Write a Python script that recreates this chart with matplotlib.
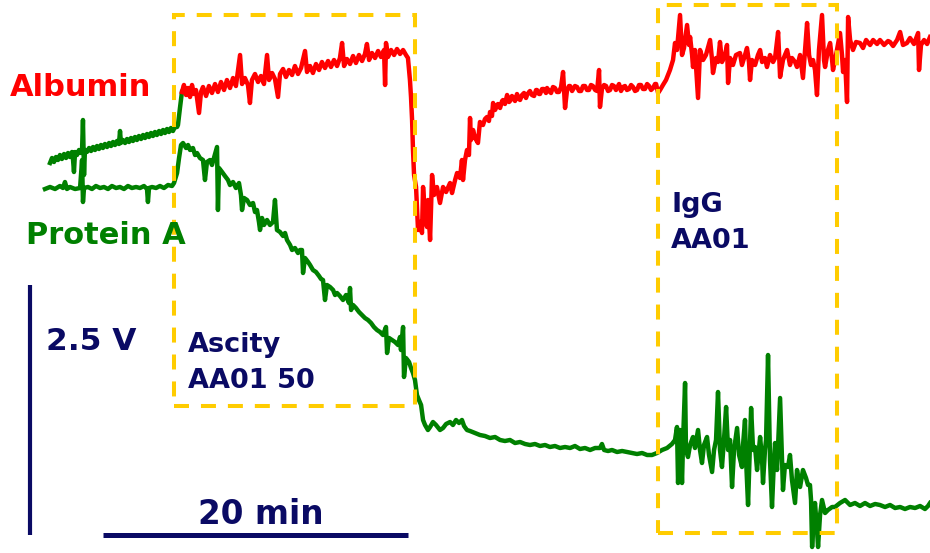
import matplotlib
matplotlib.use("Agg")
import matplotlib.pyplot as plt
from matplotlib.patches import Rectangle

# ---- recorded sensor traces: time in minutes, signal in volts ----
# channel 1 before the Albumin surface takes over (drawn green)
ch1_pre_t = [0.33, 0.46, 0.59, 0.72, 0.85, 0.98, 1.11, 1.25, 1.38, 1.51, 1.64, 1.77, 1.84, 1.90,
             1.97, 2.10, 2.23, 2.36, 2.43, 2.49, 2.56, 2.62, 2.75, 2.89, 3.02, 3.15, 3.28, 3.41,
             3.54, 3.67, 3.80, 3.93, 4.07, 4.20, 4.33, 4.46, 4.59, 4.72, 4.85, 4.92, 4.98, 5.11,
             5.25, 5.38, 5.51, 5.64, 5.77, 5.90, 6.03, 6.16, 6.30, 6.43, 6.56, 6.69, 6.82, 6.95,
             7.08, 7.21, 7.34, 7.48, 7.61, 7.74, 7.87, 8.00, 8.13, 8.26, 8.39, 8.52, 8.66, 8.72,
             8.85, 8.98]
ch1_pre_v = [3.90, 3.95, 3.91, 3.96, 3.93, 3.98, 3.94, 3.99, 3.95, 4.00, 3.96, 4.01, 3.93, 3.81,
             4.01, 3.98, 4.03, 4.00, 4.03, 4.33, 3.78, 4.03, 4.01, 4.05, 4.02, 4.06, 4.03, 4.07,
             4.04, 4.08, 4.05, 4.09, 4.06, 4.10, 4.07, 4.11, 4.08, 4.12, 4.09, 4.22, 4.10, 4.13,
             4.10, 4.14, 4.11, 4.15, 4.12, 4.16, 4.13, 4.17, 4.14, 4.18, 4.15, 4.19, 4.16, 4.20,
             4.17, 4.21, 4.18, 4.22, 4.19, 4.23, 4.20, 4.24, 4.21, 4.25, 4.22, 4.26, 4.26, 4.28,
             4.45, 4.61]

# Albumin channel
alb_t = [8.98, 9.11, 9.25, 9.38, 9.51, 9.64, 9.77, 9.90, 10.10, 10.23, 10.36, 10.56, 10.75, 10.95,
         11.15, 11.34, 11.54, 11.74, 11.93, 12.13, 12.33, 12.52, 12.79, 12.92, 13.11, 13.31, 13.44,
         13.57, 13.77, 13.97, 14.16, 14.36, 14.56, 14.69, 14.89, 15.08, 15.28, 15.41, 15.61, 15.80,
         16.00, 16.20, 16.39, 16.59, 16.79, 17.05, 17.18, 17.38, 17.57, 17.77, 17.97, 18.16, 18.36,
         18.56, 18.75, 18.95, 19.15, 19.34, 19.48, 19.61, 19.80, 20.00, 20.20, 20.39, 20.59, 20.79,
         20.98, 21.11, 21.25, 21.44, 21.64, 21.84, 22.03, 22.23, 22.30, 22.36, 22.49, 22.69, 22.89,
         23.08, 23.28, 23.48, 23.67, 23.80, 23.93, 24.00, 24.07, 24.13, 24.20, 24.33, 24.46, 24.59,
         24.72, 24.79, 24.92, 25.05, 25.11, 25.25, 25.38, 25.51, 25.70, 25.90, 26.10, 26.30, 26.56,
         26.69, 26.89, 27.02, 27.21, 27.34, 27.41, 27.54, 27.67, 27.80, 27.87, 27.93, 28.07, 28.20,
         28.39, 28.52,
         28.72, 28.85, 28.98, 29.11, 29.18, 29.31, 29.38, 29.51, 29.64, 29.70, 29.84, 29.97, 30.03,
         30.16, 30.30, 30.43, 30.49, 30.62, 30.69, 30.82, 30.95, 31.08, 31.15, 31.28, 31.41, 31.54,
         31.61, 31.74, 31.80, 31.93, 32.07, 32.20, 32.26, 32.39, 32.46, 32.59, 32.72, 32.85, 32.92,
         33.05, 33.18, 33.31, 33.44, 33.57, 33.70, 33.84, 33.97, 34.10, 34.23, 34.36, 34.43, 34.56,
         34.75, 34.89, 35.02, 35.15, 35.28, 35.41, 35.54, 35.67, 35.80, 35.93, 36.07, 36.20, 36.33,
         36.39, 36.52, 36.66, 36.79, 36.92, 37.05, 37.18, 37.31, 37.44, 37.51, 37.64, 37.77, 37.90,
         38.03, 38.16, 38.30, 38.43, 38.56, 38.69, 38.82, 38.95, 39.08, 39.21, 39.34, 39.48, 39.61,
         39.74, 39.87, 40.00, 40.07, 40.20,
         40.33, 40.52, 40.72, 40.98, 41.18, 41.31, 41.44, 41.64, 41.77, 41.90,
         42.10, 42.23, 42.30, 42.43, 42.49, 42.62, 42.82, 42.95, 43.15, 43.34, 43.61, 43.74, 43.80,
         44.00, 44.13, 44.26, 44.39, 44.59, 44.72, 44.79, 44.92, 45.11, 45.31, 45.57, 45.70, 45.90,
         46.03, 46.16, 46.23, 46.36, 46.56, 46.75, 46.89, 47.02, 47.21, 47.34, 47.54, 47.74, 47.87,
         48.07, 48.20, 48.39, 48.52, 48.66, 48.85, 48.98, 49.18, 49.31, 49.51, 49.70, 49.84, 49.97,
         50.10, 50.23, 50.36, 50.49, 50.62, 50.75, 50.95, 51.08, 51.15, 51.34, 51.48, 51.61, 51.67,
         51.87, 52.13, 52.26, 52.33, 52.46, 52.59, 52.66, 52.79, 52.98, 53.18, 53.44, 53.64, 53.84,
         54.10, 54.30, 54.56, 54.75, 55.02, 55.28, 55.41, 55.61, 55.87, 56.07, 56.26, 56.52, 56.72,
         56.98, 57.25, 57.31, 57.44, 57.64, 57.84, 58.03]
alb_v = [4.61, 4.68, 4.58, 4.65, 4.56, 4.68, 4.59, 4.63, 4.40, 4.61, 4.66, 4.57, 4.67, 4.60,
         4.69, 4.61, 4.71, 4.63, 4.73, 4.65, 4.75, 4.67, 4.98, 4.69, 4.75, 4.68, 4.50,
         4.73, 4.79, 4.71, 4.77, 4.69, 4.98, 4.73, 4.80, 4.74, 4.56, 4.79, 4.84, 4.76,
         4.83, 4.78, 4.87, 4.79, 4.85, 5.02, 4.81, 4.87, 4.80, 4.89, 4.83, 4.91, 4.85,
         4.92, 4.86, 4.93, 4.87, 4.95, 5.10, 4.87, 4.94, 4.89, 4.97, 4.90, 4.98, 4.92,
         4.99, 5.09, 4.93, 5.00, 4.95, 5.02, 4.96, 5.03, 4.68, 5.10, 4.96, 5.03, 4.98,
         5.04, 4.99, 5.03, 4.98, 4.95, 4.73, 4.56, 4.33, 4.03, 3.78, 3.66, 3.23, 3.31,
         3.20, 3.66, 3.38, 3.26, 3.53, 3.13, 3.78, 3.58, 3.66, 3.50, 3.66, 3.61, 3.70,
         3.60, 3.73, 3.80, 3.75, 3.93, 3.73, 3.93, 4.03, 3.98, 4.35, 4.13, 4.23, 4.15,
         4.10, 4.31,
         4.28, 4.34, 4.36, 4.32, 4.41, 4.37, 4.50, 4.43, 4.47, 4.49, 4.45, 4.52, 4.53,
         4.49, 4.58, 4.51, 4.52, 4.57, 4.55, 4.52, 4.59, 4.54, 4.53, 4.58, 4.60, 4.55,
         4.58, 4.61, 4.62, 4.58, 4.57, 4.63, 4.63, 4.59, 4.59, 4.64, 4.64, 4.60, 4.65,
         4.62, 4.60, 4.66, 4.65, 4.61, 4.61, 4.66, 4.81, 4.45, 4.63, 4.67, 4.67, 4.62,
         4.67, 4.66, 4.62, 4.62, 4.67, 4.67, 4.63, 4.63, 4.68, 4.67, 4.63, 4.62, 4.83,
         4.46, 4.64, 4.68, 4.67, 4.62, 4.63, 4.68, 4.67, 4.63, 4.65, 4.69, 4.62, 4.66,
         4.67, 4.63, 4.64, 4.68, 4.66, 4.62, 4.63, 4.68, 4.68, 4.64, 4.64, 4.69, 4.67,
         4.63, 4.65, 4.69, 4.69, 4.60,
         4.63, 4.68, 4.73, 4.83, 4.93, 5.10, 5.03, 5.38, 4.98, 5.05,
         5.28, 5.08, 5.16, 4.98, 4.86, 5.03, 4.55, 5.03, 4.93, 4.98, 5.13, 4.93, 4.80,
         4.95, 4.91, 5.11, 4.91, 4.98, 5.08, 4.70, 4.95, 4.88, 4.98, 5.00, 4.88, 4.98,
         5.05, 4.91, 4.73, 4.93, 4.88, 4.98, 5.03, 4.91, 4.95, 4.86, 4.98, 4.91, 4.95,
         5.21, 4.76, 4.93, 4.98, 5.03, 4.88, 4.95, 4.91, 4.86, 4.98, 4.75, 5.03, 5.30,
         4.98, 4.88, 4.93, 4.83, 4.58, 5.03, 5.38, 4.93, 4.86, 5.03, 5.10, 4.93, 4.83,
         4.98, 5.20, 4.98, 4.81, 4.93, 4.51, 5.36, 5.13, 5.03, 5.11, 5.10, 5.05, 5.13,
         5.08, 5.13, 5.09, 5.13, 5.08, 5.12, 5.11, 5.07, 5.13, 5.21, 5.08, 5.10, 5.15,
         5.09, 5.20, 4.83, 5.08, 5.13, 5.09, 5.16]

# Protein A channel
pa_t = [0.00, 0.33, 0.66, 0.98, 1.18, 1.31, 1.44, 1.64, 1.97, 2.30, 2.43, 2.49, 2.56, 2.82,
        3.08, 3.34, 3.61, 3.87, 4.13, 4.39, 4.66, 4.92, 5.18, 5.44, 5.70, 5.97, 6.23, 6.49,
        6.69, 6.75, 6.82, 7.02, 7.28, 7.54, 7.80, 8.07, 8.33, 8.46, 8.66, 8.79, 8.92, 9.05,
        9.25, 9.38, 9.51, 9.70, 9.84, 9.97, 10.16, 10.36, 10.49, 10.62, 10.82, 10.95, 11.08,
        11.28, 11.34, 11.41, 11.61, 11.80, 12.00, 12.13, 12.33, 12.52, 12.72, 12.85, 12.92,
        13.05, 13.25, 13.44, 13.64, 13.77, 13.90, 14.03, 14.10, 14.23, 14.36, 14.56, 14.75,
        14.95, 15.08, 15.21, 15.41, 15.61, 15.74, 15.87, 16.07, 16.20, 16.39, 16.59, 16.72,
        16.85, 16.92, 17.05, 17.25, 17.38, 17.57, 17.77, 17.97, 18.10, 18.23, 18.36, 18.49,
        18.69, 18.89, 19.02, 19.15, 19.34, 19.54, 19.74, 19.93, 20.00, 20.07, 20.20, 20.39,
        20.59, 20.79, 20.98, 21.18, 21.38, 21.57, 21.77, 21.97, 22.16, 22.36, 22.43, 22.56,
        22.75, 22.95, 23.15, 23.28, 23.34, 23.48, 23.54, 23.67, 23.87, 24.00, 24.13, 24.26,
        24.39, 24.52, 24.66, 24.79, 24.92, 25.11, 25.25, 25.44, 25.64, 25.90, 26.10, 26.30,
        26.56, 26.75, 26.95, 27.15, 27.34, 27.48, 27.67, 27.87, 28.20, 28.52, 28.85, 29.18,
        29.51, 29.84, 30.16, 30.49, 30.82, 31.15, 31.48, 31.80, 32.13, 32.46, 32.79, 33.11,
        33.44, 33.77, 34.10, 34.43, 34.75, 35.08, 35.41, 35.74, 36.07, 36.39, 36.52, 36.66,
        36.92, 37.18, 37.51, 37.84, 38.16, 38.49, 38.82, 39.15, 39.48, 39.80, 40.13, 40.46,
        40.79, 41.11, 41.31, 41.44, 41.51, 41.64, 41.77, 41.84, 41.97, 42.03, 42.16, 42.30,
        42.49, 42.62, 42.82, 42.95, 43.08, 43.21, 43.41, 43.54, 43.74, 43.87, 44.00, 44.13,
        44.26, 44.39, 44.52, 44.66, 44.79, 44.92, 45.05, 45.18, 45.38, 45.51, 45.70, 45.77,
        45.90, 45.97, 46.10, 46.23, 46.30, 46.43, 46.56, 46.69, 46.89, 47.02, 47.08, 47.21,
        47.28, 47.41, 47.54, 47.67, 47.80, 47.87, 48.00, 48.20, 48.33, 48.39, 48.52, 48.72,
        48.85, 48.98, 49.18, 49.31, 49.51, 49.70, 49.90, 50.03, 50.16, 50.23, 50.30, 50.43,
        50.49, 50.62, 50.69, 50.82, 50.95, 51.15, 51.34, 51.61, 51.80, 52.13, 52.46, 52.79,
        53.11, 53.44, 53.77, 54.10, 54.43, 54.75, 55.08, 55.41, 55.74, 56.07, 56.39, 56.72,
        57.05, 57.38, 57.70, 57.90, 58.03]
pa_v = [3.64, 3.66, 3.64, 3.67, 3.65, 3.71, 3.64, 3.66, 3.64, 3.65, 3.93, 3.51, 3.65, 3.66,
        3.64, 3.67, 3.65, 3.66, 3.64, 3.67, 3.65, 3.66, 3.64, 3.67, 3.65, 3.66, 3.65, 3.67,
        3.64, 3.51, 3.65, 3.66, 3.65, 3.67, 3.65, 3.68, 3.67, 3.70, 3.80, 3.95, 4.08, 4.10,
        4.05, 4.08, 4.03, 4.05, 3.98, 4.00, 3.95, 3.93, 3.73, 3.91, 3.93, 3.88, 3.95,
        4.06, 3.43, 3.85, 3.81, 3.77, 3.73, 3.68, 3.71, 3.65, 3.70, 3.58, 3.43,
        3.55, 3.53, 3.48, 3.50, 3.41, 3.43, 3.31, 3.23, 3.35, 3.28, 3.33, 3.28,
        3.31, 3.53, 3.23, 3.21, 3.17, 3.20, 3.13, 3.08, 3.03, 3.05, 3.00, 3.03,
        3.03, 2.80, 2.95, 2.91, 2.88, 2.83, 2.81, 2.77, 2.74, 2.73, 2.53, 2.68,
        2.66, 2.63, 2.58, 2.60, 2.57, 2.53, 2.58, 2.50, 2.65, 2.43, 2.48, 2.45,
        2.41, 2.38, 2.35, 2.33, 2.30, 2.26, 2.23, 2.21, 2.18, 2.26, 2.00, 2.15,
        2.13, 2.11, 2.08, 2.16, 2.03, 2.26, 1.76, 1.95, 1.91, 1.85, 1.80, 1.73,
        1.58, 1.53, 1.48, 1.33, 1.28, 1.23, 1.26, 1.31, 1.28, 1.23, 1.25, 1.29,
        1.31, 1.28, 1.33, 1.30, 1.33, 1.27, 1.23, 1.22, 1.20, 1.18, 1.17, 1.15,
        1.16, 1.13, 1.12, 1.13, 1.10, 1.11, 1.09, 1.08, 1.09, 1.07, 1.08, 1.06,
        1.07, 1.05, 1.06, 1.05, 1.07, 1.04, 1.05, 1.03, 1.05, 1.05, 1.09, 1.03,
        1.02, 1.03, 1.01, 1.02, 1.01, 1.00, 0.99, 1.00, 0.98, 0.98, 1.00, 1.03,
        1.05, 1.09, 1.13, 1.26, 0.70, 1.23, 0.70, 1.13, 1.70, 1.03, 0.96, 1.08,
        1.16, 1.05, 1.23, 1.03, 0.90, 1.08, 1.16, 0.98, 0.81, 1.03, 1.13, 1.61,
        1.03, 0.86, 1.13, 1.46, 1.03, 1.13, 0.66, 1.03, 1.25, 0.98, 0.86, 1.08,
        1.33, 0.93, 0.48, 1.13, 1.45, 1.03, 1.06, 0.83, 1.16, 0.93, 0.70, 1.03,
        1.13, 1.98, 0.93, 0.46, 0.93, 1.10, 0.83, 1.55, 0.93, 0.63, 0.88, 0.86,
        0.98, 0.73, 0.50, 0.83, 0.66, 0.83, 0.75, 0.68, 0.68, 0.53, 0.06, 0.43,
        0.50, 0.23, 0.06, 0.38, 0.53, 0.40, 0.43, 0.46, 0.46, 0.50, 0.53, 0.48,
        0.50, 0.47, 0.50, 0.47, 0.49, 0.48, 0.46, 0.48, 0.45, 0.46, 0.44, 0.46,
        0.45, 0.47, 0.44, 0.47, 0.50]

# sample injection windows (start, end) in minutes and their drawn band in volts
inj_ascity = (8.46, 24.26)
inj_ascity_band = (1.47, 5.38)
inj_igg = (40.20, 51.93)
inj_igg_band = (0.20, 5.48)

# scale bars
bar_time_min = 20.0
bar_volt = 2.5
bar_origin = (-0.98, 0.18)   # vertical bar foot (min, V)
hbar_start = 3.80

RED = "#FF0000"
GREEN = "#008000"
NAVY = "#0A0A64"
GOLD = "#FFCC00"

fig = plt.figure(figsize=(9.3, 5.53), dpi=100)
ax = fig.add_axes([0, 0, 1, 1])
ax.set_xlim(-2.95, 58.03)
ax.set_ylim(0, 5.53)
ax.axis("off")

lw = 3.2
ax.plot(ch1_pre_t, ch1_pre_v, color=GREEN, lw=lw, solid_joinstyle="round", zorder=2)
ax.plot(alb_t, alb_v, color=RED, lw=lw, solid_joinstyle="round", zorder=2)
ax.plot(pa_t, pa_v, color=GREEN, lw=lw, solid_joinstyle="round", zorder=2)

# dashed injection boxes
box_lw = 2.9
dash = (0, (10.8 / box_lw, 8.6 / box_lw))
for (t0, t1), (v0, v1) in [(inj_ascity, inj_ascity_band), (inj_igg, inj_igg_band)]:
    ax.add_patch(Rectangle((t0, v0), t1 - t0, v1 - v0, fill=False, edgecolor=GOLD,
                           lw=box_lw, linestyle=dash, zorder=3))

# scale bars
ax.plot([bar_origin[0], bar_origin[0]], [bar_origin[1], bar_origin[1] + bar_volt],
        color=NAVY, lw=3.0, solid_capstyle="butt", zorder=4)
ax.plot([hbar_start, hbar_start + bar_time_min], [bar_origin[1], bar_origin[1]],
        color=NAVY, lw=3.6, solid_capstyle="butt", zorder=4)

font = dict(family="DejaVu Sans", weight="bold")
W, H = 930.0, 553.0


def label(x, y, s, color, size):
    fig.text(x / W, 1 - y / H, s, color=color, fontsize=size, ha="left", va="baseline", **font)


label(10, 96, "Albumin", RED, 22)
label(26, 244, "Protein A", GREEN, 22)
label(46, 350, "2.5 V", NAVY, 22.5)
label(188, 352, "Ascity", NAVY, 19.5)
label(188, 388, "AA01 50", NAVY, 19.5)
label(671, 212, "IgG", NAVY, 19.5)
label(671, 248, "AA01", NAVY, 19.5)
label(198, 524, "20 min", NAVY, 23.5)

fig.savefig("out.png", dpi=100)
